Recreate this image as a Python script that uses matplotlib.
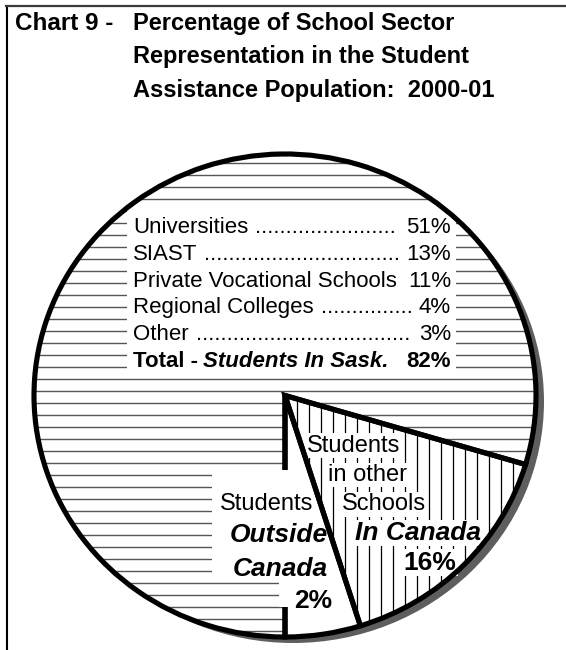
import numpy as np
import matplotlib
matplotlib.use("Agg")
import matplotlib.pyplot as plt
import matplotlib.transforms as mtransforms
from matplotlib.patches import Ellipse, Rectangle
from matplotlib.collections import LineCollection
from matplotlib.lines import Line2D

plt.rcParams['font.family'] = ['Liberation Sans', 'DejaVu Sans']

# ---- data ----
slice_names = ["Students Outside Canada", "Students in other Schools In Canada", "Students In Sask."]
slice_pcts = np.array([2, 16, 82])
sector_names = ["Universities", "SIAST", "Private Vocational Schools", "Regional Colleges", "Other"]
sector_pcts = [51, 13, 11, 4, 3]

title_lines = ["Percentage of School Sector", "Representation in the Student",
               "Assistance Population:  2000-01"]

# ---- figure / coordinates ----
W, H = 566, 650
fig = plt.figure(figsize=(W / 100, H / 100), dpi=100)
cx, cy, rx, ry = 285, 395.5, 251, 241.5   # pie ellipse, pixels
ax = fig.add_axes([0, 0, 1, 1])

# pixel coords, origin top-left
pix = mtransforms.Affine2D().scale(1 / W, -1 / H).translate(0, 1) + fig.transFigure

# small slice drawn at a minimum size so its label fits (as in the original)
display = np.maximum(slice_pcts, 5)

wedges, _ = ax.pie(display, startangle=-90, counterclock=True,
                   wedgeprops=dict(facecolor='white', edgecolor='none', zorder=1, clip_on=False))
edges, _ = ax.pie(display, startangle=-90, counterclock=True,
                  wedgeprops=dict(fill=False, edgecolor='black', linewidth=3.7, zorder=4, clip_on=False))
ax.set_aspect('auto')
ax.set_xlim(-cx / rx, (W - cx) / rx)
ax.set_ylim(-(H - cy) / ry, cy / ry)
ax.axis('off')

# drop shadow
ax.add_patch(Ellipse((8 / rx, -6 / ry), 2, 2, facecolor='#5e5e5e', edgecolor='none', zorder=0.5))

# hatching
hl = LineCollection([[(0, y), (W, y)] for y in np.arange(163, H, 12)],
                    colors='#555555', linewidths=1.0, transform=pix, zorder=2)
hl.set_clip_path(wedges[2])
ax.add_collection(hl, autolim=False)
vl = LineCollection([[(x, 0), (x, H)] for x in np.arange(297, W, 12)],
                    colors='black', linewidths=0.9, transform=pix, zorder=2)
vl.set_clip_path(wedges[1])
ax.add_collection(vl, autolim=False)

# frame
fig.add_artist(Line2D([7, 7], [6, H], transform=pix, color='black', lw=1.5))
fig.add_artist(Line2D([6, W], [6, 6], transform=pix, color='#3a3a3a', lw=1.6))

# title
ax.text(15, 30, "Chart 9 -", transform=pix, fontsize=17.5, fontweight='bold', va='baseline')
for i, line in enumerate(title_lines):
    ax.text(133, 30 + 33.5 * i, line, transform=pix, fontsize=17, fontweight='bold', va='baseline')

# sector breakdown list
ax.add_patch(Rectangle((127, 205), 329, 168, transform=pix, facecolor='white',
                       edgecolor='none', zorder=3))
renderer = fig.canvas.get_renderer()
fs = 16
probe = ax.text(0, 0, "." * 20, transform=pix, fontsize=fs)
dot_w = probe.get_window_extent(renderer).width / 20
probe.remove()
x_left, x_right = 133, 451
for i, (name, pct) in enumerate(zip(sector_names, sector_pcts)):
    yb = 233.3 + 26.7 * i
    t1 = ax.text(x_left, yb, name, transform=pix, fontsize=fs, va='baseline', zorder=5)
    t3 = ax.text(x_right, yb, f"{pct}%", transform=pix, fontsize=fs, va='baseline',
                 ha='right', zorder=5)
    x1 = t1.get_window_extent(renderer).x1
    x3 = t3.get_window_extent(renderer).x0
    n = int((x3 - x1 - 12) / dot_w)
    if n > 0:
        ax.text(x1 + 7, yb, "." * n, transform=pix, fontsize=fs, va='baseline', zorder=5)
yb = 233.3 + 26.7 * len(sector_names)
t = ax.text(x_left, yb, "Total -", transform=pix, fontsize=fs, fontweight='bold',
            va='baseline', zorder=5)
x1 = t.get_window_extent(renderer).x1
ax.text(x1 + 5, yb, slice_names[2], transform=pix, fontsize=fs, fontweight='bold',
        style='italic', va='baseline', zorder=5)
ax.text(x_right, yb, f"{sum(sector_pcts)}%", transform=pix, fontsize=fs, fontweight='bold',
        va='baseline', ha='right', zorder=5)

# 16% slice label
box = dict(facecolor='white', edgecolor='none', pad=1)
lab16 = [("Students", 354, 451.5, 'normal', 'normal', 17),
         ("in other", 367, 481, 'normal', 'normal', 17),
         ("Schools", 384, 510.5, 'normal', 'normal', 17),
         ("In Canada", 418, 540, 'bold', 'italic', 19),
         (f"{slice_pcts[1]}%", 430, 569.5, 'bold', 'normal', 19)]
for s, x, y, w, st, f in lab16:
    ax.text(x, y, s, transform=pix, fontsize=f, fontweight=w, style=st, ha='center',
            va='baseline', bbox=box, zorder=3.5)

# 2% slice label (white backing hides hatch and part of the radial line)
ax.add_patch(Rectangle((212, 470), 77, 112, transform=pix, facecolor='white',
                       edgecolor='none', zorder=4.5))
ax.add_patch(Rectangle((279, 580), 10, 27, transform=pix, facecolor='white',
                       edgecolor='none', zorder=4.5))
lab2 = [("Students", 313, 510.5, 'normal', 'normal', 17),
        ("Outside", 328, 541.5, 'bold', 'italic', 19),
        ("Canada", 328, 576.5, 'bold', 'italic', 19),
        (f"{slice_pcts[0]}%", 332, 607.5, 'bold', 'normal', 19)]
for s, x, y, w, st, f in lab2:
    ax.text(x, y, s, transform=pix, fontsize=f, fontweight=w, style=st, ha='right',
            va='baseline', zorder=5)

fig.savefig("out.png", dpi=100)
